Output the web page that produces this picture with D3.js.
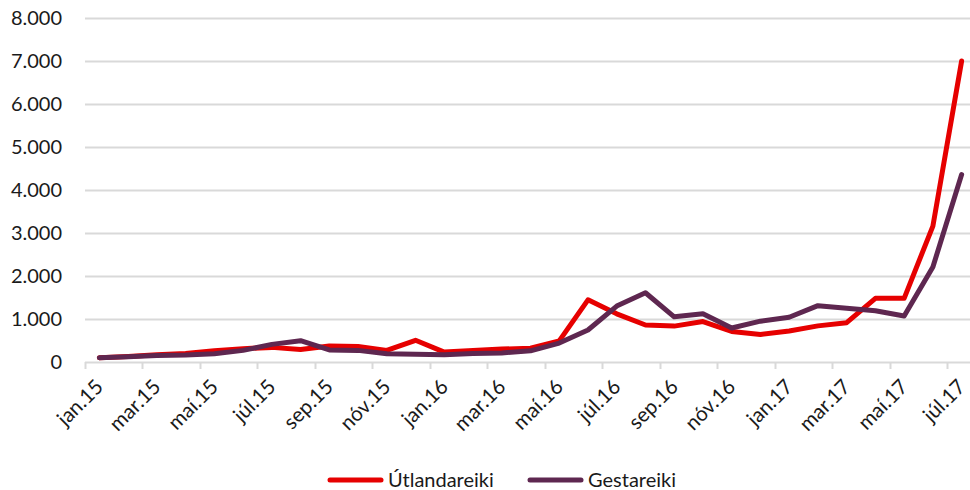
<!DOCTYPE html>
<html>
<head>
<meta charset="utf-8">
<script src="https://cdn.jsdelivr.net/npm/d3@7"></script>
<style>
  body { margin: 0; background: #fff; }
  text { font-family: Lato, "Open Sans", sans-serif; fill: #1a1a1a; }
</style>
</head>
<body>
<div id="chart"></div>
<script>
// months jan.15 .. júl.17
var months = ['jan.15','feb.15','mar.15','apr.15','maí.15','jún.15','júl.15','ágú.15','sep.15','okt.15','nóv.15','des.15',
              'jan.16','feb.16','mar.16','apr.16','maí.16','jún.16','júl.16','ágú.16','sep.16','okt.16','nóv.16','des.16',
              'jan.17','feb.17','mar.17','apr.17','maí.17','jún.17','júl.17'];

var utlandareiki = [100, 130, 170, 200, 260, 310, 340, 290, 370, 360, 270, 505, 230, 270, 300, 320, 490,
                    1445, 1120, 860, 835, 940, 710, 640, 720, 840, 915, 1480, 1480, 3160, 7000];
var gestareiki = [100, 120, 150, 160, 190, 270, 410, 495, 280, 270, 190, 180, 170, 200, 210, 260, 440,
                  745, 1300, 1610, 1050, 1120, 790, 950, 1040, 1310, 1250, 1190, 1070, 2210, 4360];

var yTicks = [0, 1000, 2000, 3000, 4000, 5000, 6000, 7000, 8000];

var series = [
  {name: 'Útlandareiki', values: utlandareiki, color: '#e60000'},
  {name: 'Gestareiki', values: gestareiki, color: '#5e2750'}
];

var width = 970, height = 490;
var margin = {top: 18, right: -6, bottom: 128, left: 85};

var svg = d3.select('#chart').append('svg')
    .attr('width', width)
    .attr('height', height);

var x = d3.scaleBand()
    .domain(months)
    .range([margin.left, width - margin.right]);

var y = d3.scaleLinear()
    .domain([0, 8000])
    .range([height - margin.bottom, margin.top]);

var fmt = function(v) { return d3.format(',')(v).replace(/,/g, '.'); };

// gridlines
svg.append('g')
    .selectAll('line')
    .data(yTicks)
    .enter().append('line')
    .attr('x1', margin.left)
    .attr('x2', width)
    .attr('y1', function(d) { return Math.round(y(d)) + 0.5; })
    .attr('y2', function(d) { return Math.round(y(d)) + 0.5; })
    .style('stroke', '#d9d9d9')
    .style('stroke-width', 2);

// y labels
svg.append('g')
    .selectAll('text')
    .data(yTicks)
    .enter().append('text')
    .attr('x', 62)
    .attr('y', function(d) { return y(d); })
    .attr('dy', '0.35em')
    .attr('text-anchor', 'end')
    .style('font-size', '20px')
    .text(fmt);

// x ticks every two months, at band boundaries
var tickIdx = d3.range(0, months.length, 2);
svg.append('g')
    .selectAll('line')
    .data(tickIdx)
    .enter().append('line')
    .attr('x1', function(i) { return Math.round(x(months[i])) + 0.5; })
    .attr('x2', function(i) { return Math.round(x(months[i])) + 0.5; })
    .attr('y1', y(0))
    .attr('y2', y(0) + 7)
    .style('stroke', '#d9d9d9')
    .style('stroke-width', 2);

svg.append('g')
    .selectAll('text')
    .data(tickIdx)
    .enter().append('text')
    .attr('text-anchor', 'end')
    .attr('transform', function(i) {
      var cx = x(months[i]) + x.bandwidth() / 2;
      return 'translate(' + cx + ',' + (y(0) + 21) + ') rotate(-45)';
    })
    .attr('dy', '0.35em')
    .style('font-size', '20.5px')
    .text(function(i) { return months[i]; });

// lines
var line = d3.line()
    .x(function(d, i) { return x(months[i]) + x.bandwidth() / 2; })
    .y(function(d) { return y(d); });

svg.append('g')
    .selectAll('path')
    .data(series)
    .enter().append('path')
    .attr('d', function(s) { return line(s.values); })
    .style('fill', 'none')
    .style('stroke', function(s) { return s.color; })
    .style('stroke-width', 5)
    .style('stroke-linejoin', 'round')
    .style('stroke-linecap', 'round');

// legend
var legend = svg.append('g')
    .selectAll('g')
    .data(series)
    .enter().append('g')
    .attr('transform', function(s, i) { return 'translate(' + (330 + i * 200) + ',480)'; });

legend.append('line')
    .attr('x1', 0).attr('x2', 51)
    .style('stroke', function(s) { return s.color; })
    .style('stroke-width', 5)
    .style('stroke-linecap', 'round');

legend.append('text')
    .attr('x', 58)
    .attr('dy', '0.35em')
    .style('font-size', '20px')
    .text(function(s) { return s.name; });
</script>
</body>
</html>
